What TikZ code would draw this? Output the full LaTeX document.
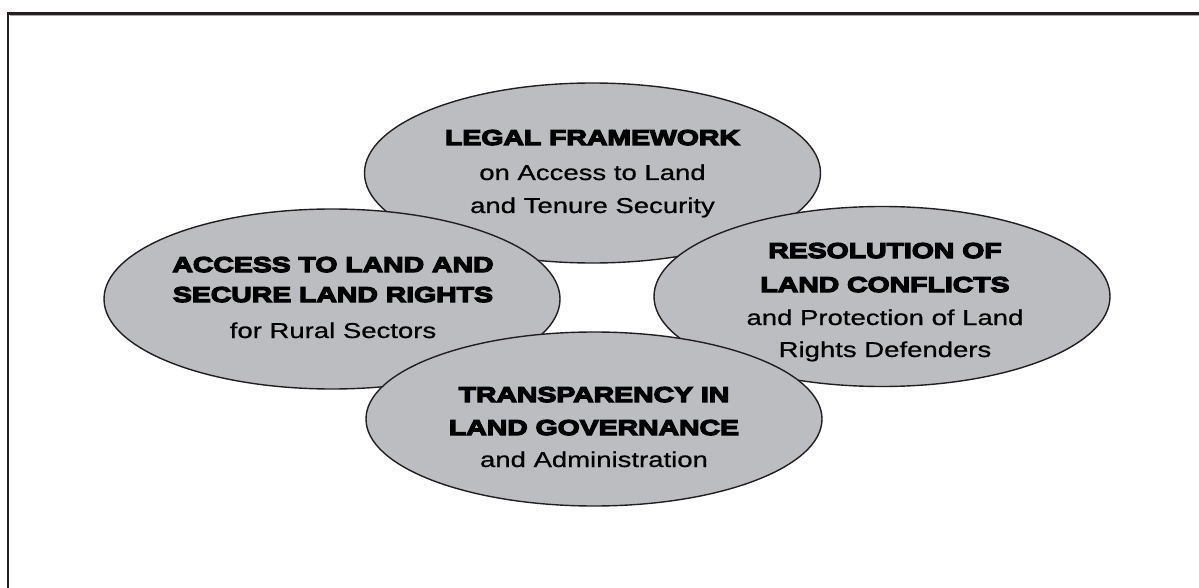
\documentclass[tikz,border=0pt]{standalone}
\usepackage{fontspec}
\setmainfont{Liberation Sans}
\newfontfamily\subf{Liberation Sans}[FakeStretch=1.28, FakeBold=0.8]
\newfontfamily\headf{Liberation Sans Bold}[FakeStretch=1.32, FakeBold=6]
\usetikzlibrary{shapes.geometric}
\definecolor{ellfill}{HTML}{BCBDC0}
\definecolor{ink}{HTML}{231F20}
\tikzset{
  blob/.style={ellipse, draw=ink, line width=1.4pt, fill=ellfill, inner sep=0pt,
    minimum width=456pt, minimum height=180pt},
  head/.style={anchor=base, inner sep=0pt, font=\headf\fontsize{21.5}{24}\selectfont, text=black},
  sub/.style={anchor=base, inner sep=0pt, font=\subf\fontsize{21.5}{24}\selectfont, text=black},
  frame/.style={draw=ink, line width=2.5pt}
}
\begin{document}
\begin{tikzpicture}[x=1pt,y=-1pt]
\useasboundingbox (0,0) rectangle (1199,588);
\fill[white] (0,0) rectangle (1199,588);
\draw[frame] (8,13.5) rectangle (1230,620);
\draw[gray!70, line width=0.6pt] (9.6,15.4) -- (1230,15.4);
% ellipses, back to front
\node[blob] (legal) at (592.5,173) {};
\node[blob] (access) at (332,299) {};
\node[blob] (resol) at (882,296.5) {};
\node[blob, minimum height=174pt] (transp) at (594,419) {};
% texts
\node[head] (l1) at (592.5,145) {LEGAL FRAMEWORK};
\node[sub]  (l2) at (592.5,180) {on Access to Land};
\node[sub]  (l3) at (592.5,213) {and Tenure Security};
\node[head] (a1) at (333,272) {ACCESS TO LAND AND};
\node[head] (a2) at (333,302) {SECURE LAND RIGHTS};
\node[sub]  (a3) at (333,338) {for Rural Sectors};
\node[head] (r1) at (885,258) {RESOLUTION OF};
\node[head] (r2) at (885,292) {LAND CONFLICTS};
\node[sub]  (r3) at (885,325) {and Protection of Land};
\node[sub]  (r4) at (885,357) {Rights Defenders};
\node[head] (t1) at (594,402) {TRANSPARENCY IN};
\node[head] (t2) at (594,435) {LAND GOVERNANCE};
\node[sub]  (t3) at (594,467) {and Administration};
\end{tikzpicture}
\end{document}
